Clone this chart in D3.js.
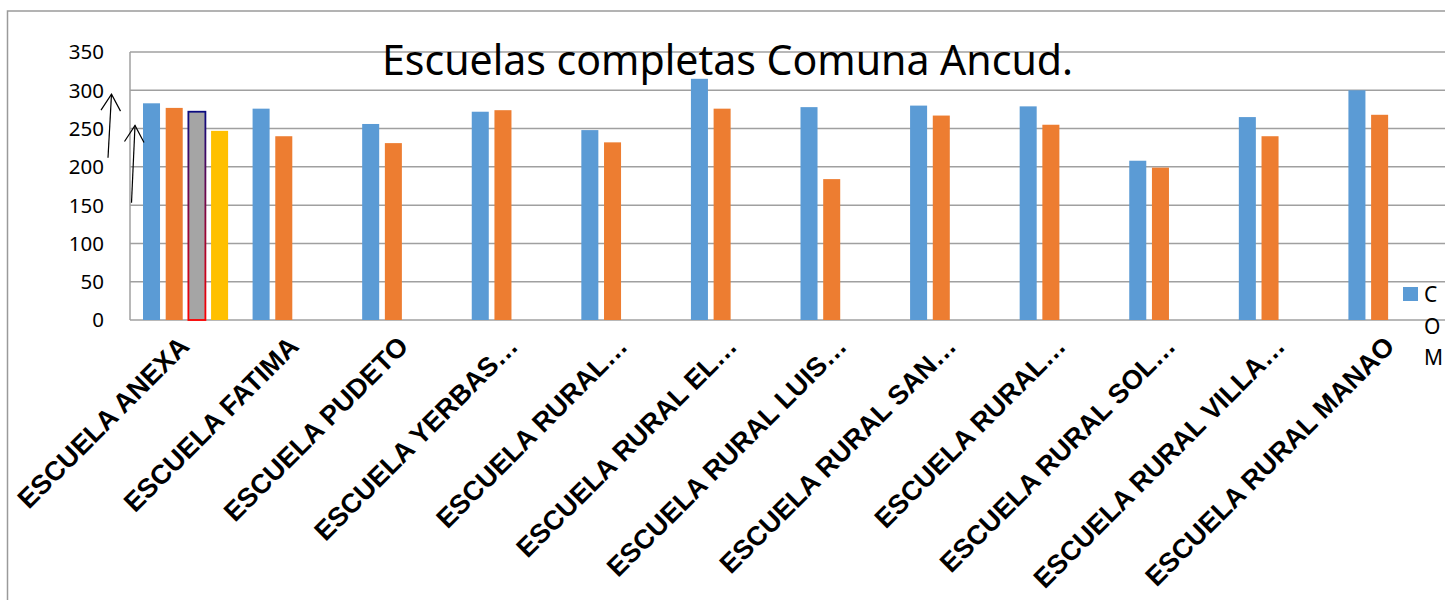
<!DOCTYPE html>
<html>
<head>
<meta charset="utf-8">
<style>
    body { margin: 0; background: #fff; }
    svg { display: block; }
</style>
</head>
<body>
<svg width="1445" height="600"></svg>

<script src="https://d3js.org/d3.v7.min.js"></script>
<script>
    // chart values
    let categories = [
        "ESCUELA ANEXA", "ESCUELA FATIMA", "ESCUELA PUDETO", "ESCUELA YERBAS…",
        "ESCUELA RURAL…", "ESCUELA RURAL EL…", "ESCUELA RURAL LUIS…", "ESCUELA RURAL SAN…",
        "ESCUELA RURAL…", "ESCUELA RURAL SOL…", "ESCUELA RURAL VILLA…", "ESCUELA RURAL MANAO"
    ];
    let serie1 = [283, 276, 256, 272, 248, 315, 278, 280, 279, 208, 265, 300];
    let serie2 = [277, 240, 231, 274, 232, 276, 184, 267, 255, 199, 240, 268];
    let serie3 = [272, null, null, null, null, null, null, null, null, null, null, null];
    let serie4 = [247, null, null, null, null, null, null, null, null, null, null, null];
    let yTicks = [0, 50, 100, 150, 200, 250, 300, 350];
    let legendLetters = ["C", "O", "M"];
    // hand-drawn arrows near the axis, in value units
    let arrows = [
        { dx0: -22, v0: 212, dx1: -18.5, v1: 295 },
        { dx0: 1.5, v0: 153, dx1: 5, v1: 254 }
    ];

    let colors = ["#5b9bd5", "#ed7d31", "#a5a5a5", "#ffc000"];
    let series = [serie1, serie2, serie3, serie4];

    let svg = d3.select("svg");

    let plotLeft = 130, plotRight = 1445, plotTop = 52, plotBottom = 320;

    let x0 = d3.scaleBand().domain(d3.range(categories.length)).range([plotLeft, plotRight]);
    let x1 = d3.scaleBand().domain(d3.range(4)).range([13, 98.1]).paddingInner(0.25);
    let y = d3.scaleLinear().domain([0, 350]).range([plotBottom, plotTop]);

    // gradient for the outlined bar
    let defs = svg.append("defs");
    let grad = defs.append("linearGradient")
        .attr("id", "edge")
        .attr("x1", 0).attr("y1", 0).attr("x2", 0).attr("y2", 1);
    grad.append("stop").attr("offset", "0%").attr("stop-color", "#0b0b80");
    grad.append("stop").attr("offset", "100%").attr("stop-color", "#ff0000");

    // outer chart border
    svg.append("rect")
        .attr("x", 7.5).attr("y", 11)
        .attr("width", 1460).attr("height", 620)
        .style("fill", "none")
        .style("stroke", "#9a9a9a")
        .style("stroke-width", 1.5);

    // gridlines
    svg.selectAll(".grid")
        .data(yTicks)
        .join("line")
        .attr("class", "grid")
        .attr("x1", plotLeft).attr("x2", plotRight)
        .attr("y1", d => y(d)).attr("y2", d => y(d))
        .style("stroke", "#a0a0a0")
        .style("stroke-width", 1.5);

    svg.append("line")
        .attr("x1", plotLeft).attr("x2", plotLeft)
        .attr("y1", y(350)).attr("y2", y(0))
        .style("stroke", "#a0a0a0")
        .style("stroke-width", 1.5);

    // y tick labels
    svg.selectAll(".ytick")
        .data(yTicks)
        .join("text")
        .attr("class", "ytick")
        .attr("x", 104)
        .attr("y", d => y(d))
        .attr("dy", "0.36em")
        .attr("text-anchor", "end")
        .style("font-family", "'Noto Sans', 'Open Sans', sans-serif")
        .style("font-size", "20.5px")
        .style("fill", "#000")
        .text(d => d);

    // title
    svg.append("text")
        .attr("x", 382)
        .attr("y", 75)
        .attr("textLength", 691)
        .attr("lengthAdjust", "spacingAndGlyphs")
        .style("font-family", "'Noto Sans', 'Open Sans', sans-serif")
        .style("font-size", "41px")
        .style("fill", "#000")
        .text("Escuelas completas Comuna Ancud.");

    // bars
    series.forEach((s, si) => {
        svg.selectAll(".bar" + si)
            .data(s.map((v, i) => ({ i: i, v: v })).filter(d => d.v != null))
            .join("rect")
            .attr("class", "bar" + si)
            .attr("x", d => x0(d.i) + x1(si))
            .attr("width", x1.bandwidth())
            .attr("y", d => y(d.v))
            .attr("height", d => y(0) - y(d.v))
            .style("fill", colors[si])
            .style("stroke", si == 2 ? "url(#edge)" : "none")
            .style("stroke-width", 1.8);
    });

    // category labels
    svg.selectAll(".xlab")
        .data(categories)
        .join("text")
        .attr("class", "xlab")
        .attr("text-anchor", "end")
        .attr("transform", (d, i) => {
            let cx = x0(i) + x0.bandwidth() / 2;
            return "translate(" + (cx + 6) + "," + 348 + ") rotate(-45)";
        })
        .style("font-family", "'Liberation Sans', Arial, sans-serif")
        .style("font-weight", "bold")
        .style("font-size", "27px")
        .style("fill", "#000")
        .text(d => d);

    // legend (squeezed, one letter per line)
    svg.append("rect")
        .attr("x", 1403).attr("y", 287)
        .attr("width", 15).attr("height", 14)
        .style("fill", colors[0]);

    svg.selectAll(".leg")
        .data(legendLetters)
        .join("text")
        .attr("class", "leg")
        .attr("x", 1424)
        .attr("y", (d, i) => 302 + i * 31.5)
        .style("font-family", "'Noto Sans', 'Open Sans', sans-serif")
        .style("font-size", "21px")
        .style("fill", "#000")
        .text(d => d);

    // arrows
    arrows.forEach(a => {
        let xa = plotLeft + a.dx0, ya = y(a.v0);
        let xb = plotLeft + a.dx1, yb = y(a.v1);
        svg.append("path")
            .attr("d", "M" + xa + "," + ya + "L" + xb + "," + yb)
            .style("stroke", "#000").style("stroke-width", 1.2).style("fill", "none");
        svg.append("path")
            .attr("d", "M" + (xb - 10.5) + "," + (yb + 16) + "L" + xb + "," + yb + "L" + (xb + 9) + "," + (yb + 17))
            .style("stroke", "#000").style("stroke-width", 1.2).style("fill", "none");
    });
</script>
</body>
</html>
